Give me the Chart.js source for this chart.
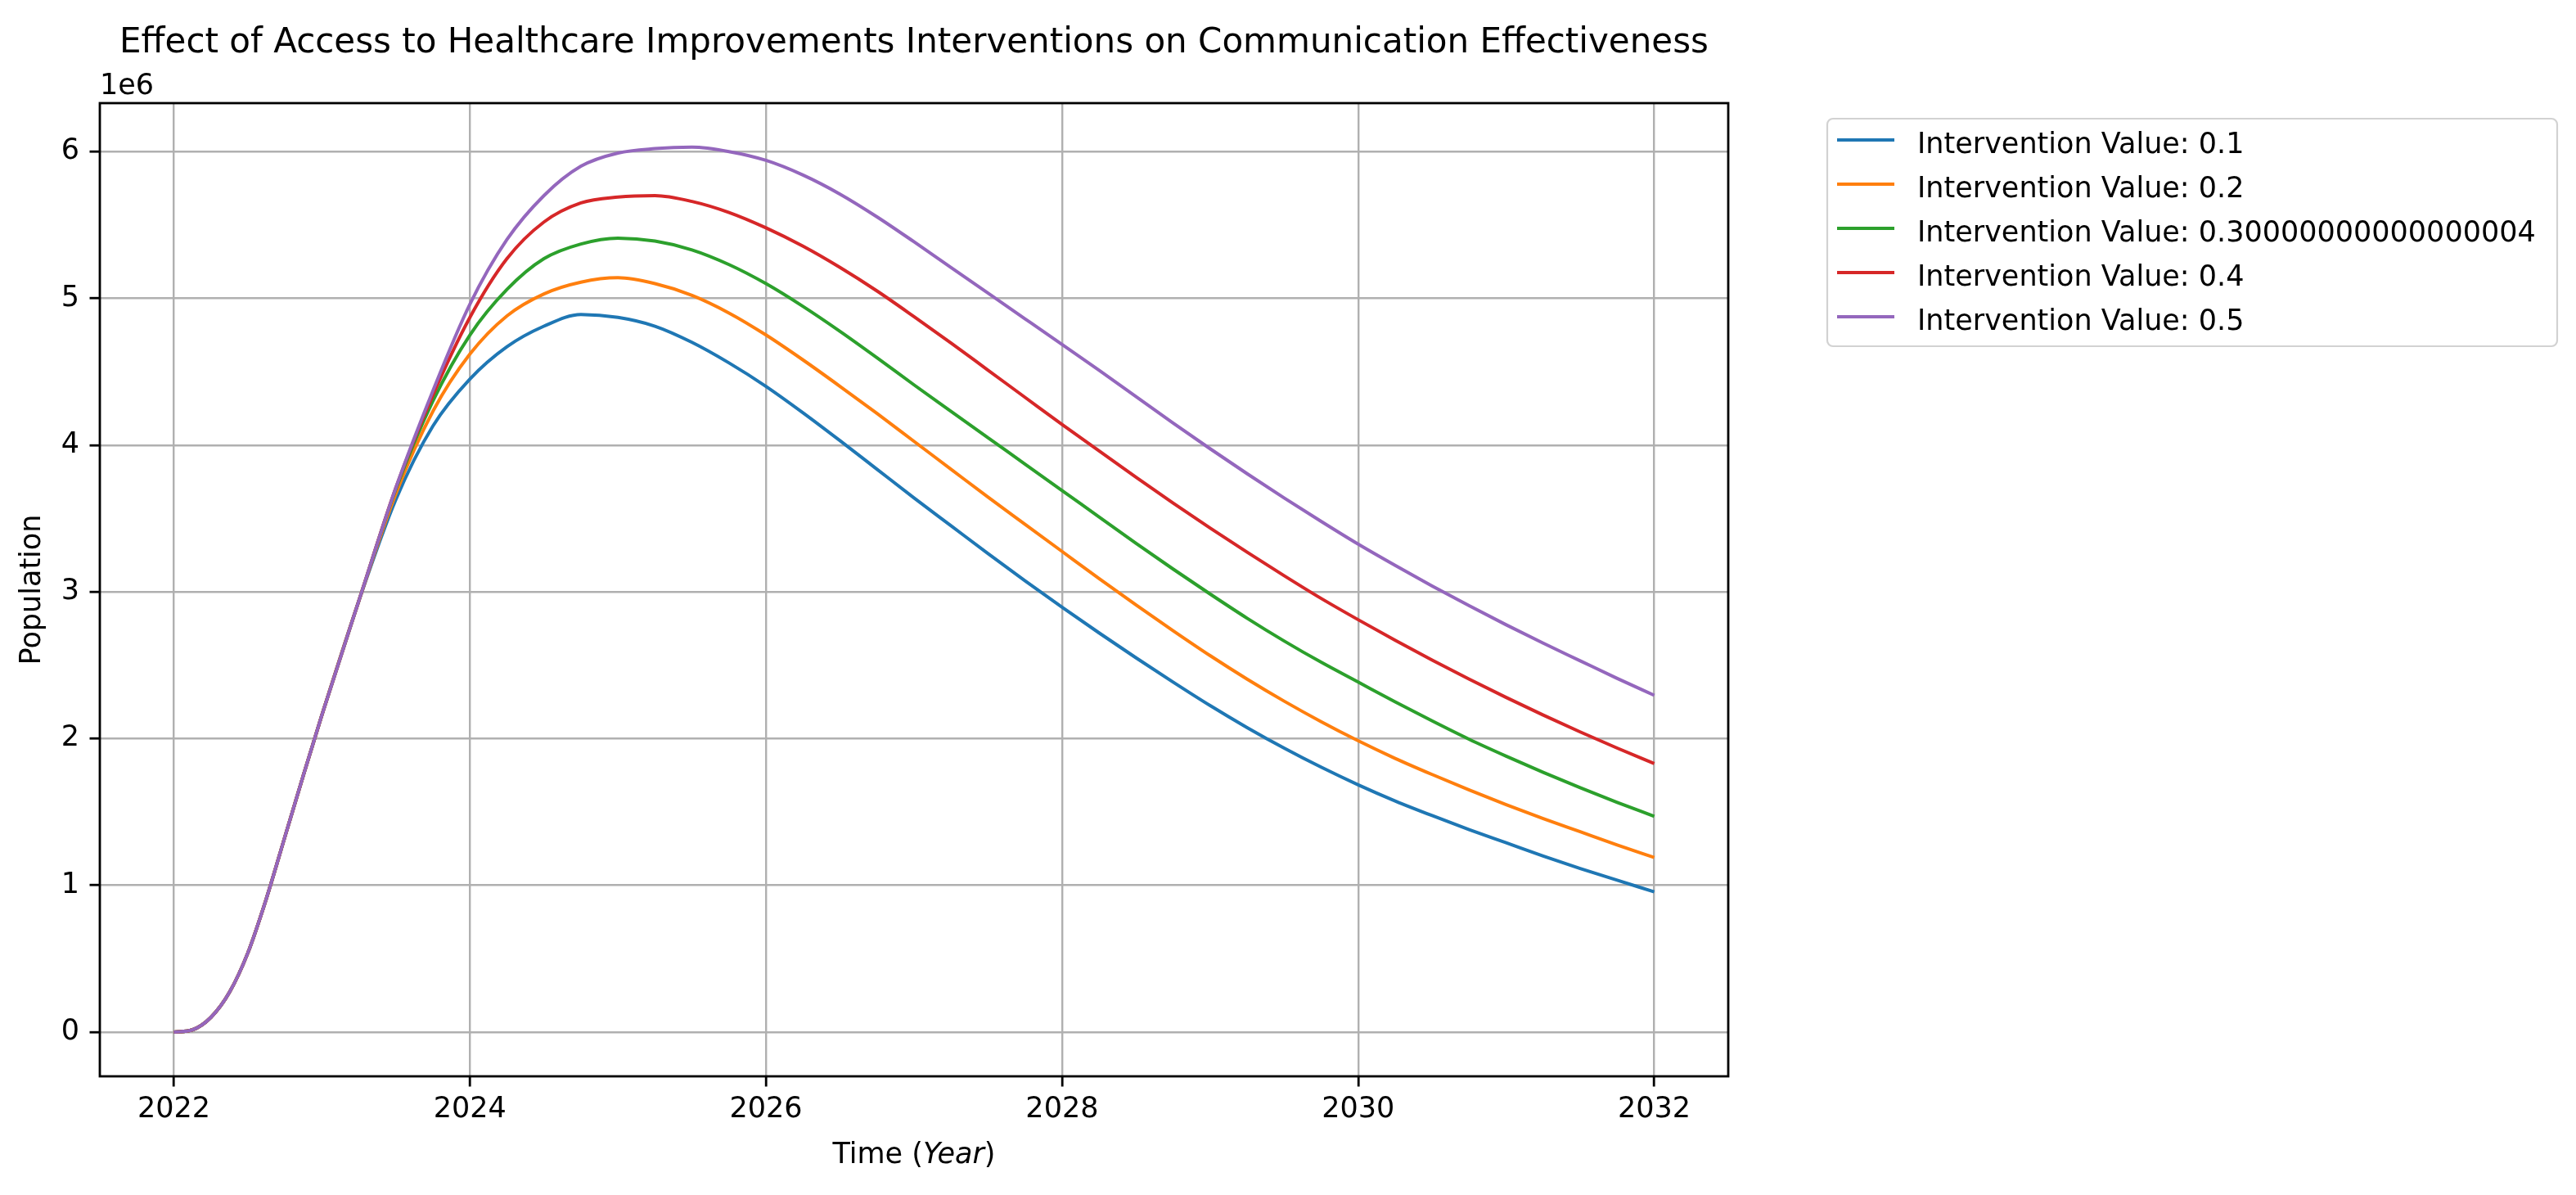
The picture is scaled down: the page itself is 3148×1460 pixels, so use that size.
<!DOCTYPE html>
<html>
<head>
<meta charset="utf-8">
<script src="https://cdn.jsdelivr.net/npm/chart.js"></script>
<style>
html, body { margin: 0; padding: 0; background: #ffffff; }
canvas { display: block; }
</style>
</head>
<body>
<canvas id="c" width="3148" height="1460"></canvas>
<script>
// ---- data ----
const titleText = 'Effect of Access to Healthcare Improvements Interventions on Communication Effectiveness';
const years = [2022, 2022.125, 2022.25, 2022.375, 2022.5, 2022.625, 2022.75, 2022.875, 2023, 2023.25, 2023.5, 2023.75,
  2024, 2024.25, 2024.5, 2024.75, 2025, 2025.25, 2025.5, 2025.75,
  2026, 2026.25, 2026.5, 2026.75, 2027, 2027.25, 2027.5, 2027.75,
  2028, 2028.25, 2028.5, 2028.75, 2029, 2029.25, 2029.5, 2029.75,
  2030, 2030.25, 2030.5, 2030.75, 2031, 2031.25, 2031.5, 2031.75, 2032];
const seriesLabels = [
  'Intervention Value: 0.1',
  'Intervention Value: 0.2',
  'Intervention Value: 0.30000000000000004',
  'Intervention Value: 0.4',
  'Intervention Value: 0.5'
];
const value01 = [0, 0.015e6, 0.10e6, 0.27e6, 0.54e6, 0.91e6, 1.33e6, 1.75e6, 2.16e6, 2.94e6, 3.63e6, 4.13e6,
  4.45e6, 4.67e6, 4.81e6, 4.89e6, 4.87e6, 4.81e6, 4.70e6, 4.56e6,
  4.40e6, 4.22e6, 4.03e6, 3.835e6, 3.64e6, 3.45e6, 3.26e6, 3.075e6,
  2.895e6, 2.72e6, 2.55e6, 2.385e6, 2.225e6, 2.075e6, 1.935e6, 1.805e6,
  1.685e6, 1.575e6, 1.475e6, 1.38e6, 1.29e6, 1.20e6, 1.115e6, 1.035e6, 0.955e6];
const value02 = [0, 0.015e6, 0.10e6, 0.27e6, 0.54e6, 0.91e6, 1.33e6, 1.75e6, 2.16e6, 2.94e6, 3.67e6, 4.23e6,
  4.62e6, 4.88e6, 5.03e6, 5.11e6, 5.14e6, 5.10e6, 5.02e6, 4.90e6,
  4.75e6, 4.58e6, 4.40e6, 4.215e6, 4.025e6, 3.835e6, 3.645e6, 3.46e6,
  3.275e6, 3.09e6, 2.91e6, 2.735e6, 2.565e6, 2.405e6, 2.255e6, 2.115e6,
  1.985e6, 1.865e6, 1.755e6, 1.65e6, 1.55e6, 1.455e6, 1.365e6, 1.275e6, 1.19e6];
const value03 = [0, 0.015e6, 0.10e6, 0.27e6, 0.54e6, 0.91e6, 1.33e6, 1.75e6, 2.16e6, 2.94e6, 3.70e6, 4.30e6,
  4.75e6, 5.06e6, 5.27e6, 5.37e6, 5.41e6, 5.39e6, 5.33e6, 5.23e6,
  5.10e6, 4.945e6, 4.775e6, 4.595e6, 4.41e6, 4.23e6, 4.05e6, 3.87e6,
  3.69e6, 3.51e6, 3.33e6, 3.155e6, 2.985e6, 2.82e6, 2.665e6, 2.52e6,
  2.385e6, 2.25e6, 2.12e6, 1.995e6, 1.88e6, 1.77e6, 1.665e6, 1.565e6, 1.47e6];
const value04 = [0, 0.015e6, 0.10e6, 0.27e6, 0.54e6, 0.91e6, 1.33e6, 1.75e6, 2.16e6, 2.94e6, 3.71e6, 4.34e6,
  4.87e6, 5.27e6, 5.52e6, 5.65e6, 5.69e6, 5.70e6, 5.66e6, 5.585e6,
  5.48e6, 5.355e6, 5.21e6, 5.05e6, 4.875e6, 4.695e6, 4.51e6, 4.325e6,
  4.14e6, 3.96e6, 3.78e6, 3.605e6, 3.435e6, 3.27e6, 3.11e6, 2.955e6,
  2.81e6, 2.67e6, 2.535e6, 2.405e6, 2.28e6, 2.16e6, 2.045e6, 1.935e6, 1.83e6];
const value05 = [0, 0.015e6, 0.10e6, 0.27e6, 0.54e6, 0.91e6, 1.33e6, 1.75e6, 2.16e6, 2.94e6, 3.71e6, 4.37e6,
  4.96e6, 5.40e6, 5.70e6, 5.90e6, 5.99e6, 6.02e6, 6.03e6, 6.00e6,
  5.94e6, 5.84e6, 5.71e6, 5.555e6, 5.385e6, 5.21e6, 5.035e6, 4.86e6,
  4.685e6, 4.51e6, 4.33e6, 4.15e6, 3.975e6, 3.805e6, 3.64e6, 3.48e6,
  3.325e6, 3.18e6, 3.04e6, 2.905e6, 2.775e6, 2.65e6, 2.53e6, 2.41e6, 2.295e6];
const xTicks = [2022, 2024, 2026, 2028, 2030, 2032];
const yTicks = [0, 1e6, 2e6, 3e6, 4e6, 5e6, 6e6];
const xRange = [2021.5, 2032.5];
const yRange = [-0.3015e6, 6.33e6];
const xTitle = ['Time (', 'Year', ')'];
const yTitle = 'Population';
const offsetText = '1e6';

// ---- styles ----
const colors = ['#1f77b4', '#ff7f0e', '#2ca02c', '#d62728', '#9467bd'];
const FONT = '"DejaVu Sans", "Liberation Sans", sans-serif';
const seriesValues = [value01, value02, value03, value04, value05];

const datasets = seriesValues.map((vals, i) => ({
  label: seriesLabels[i],
  data: years.map((x, j) => ({ x: x, y: vals[j] })),
  borderColor: colors[i],
  backgroundColor: colors[i],
  borderWidth: 4,
  pointRadius: 0,
  fill: false,
  cubicInterpolationMode: 'monotone',
  order: seriesValues.length - 1 - i
}));

const decorPlugin = {
  id: 'decor',
  afterDraw(chart) {
    const ctx = chart.ctx;
    const a = chart.chartArea;
    ctx.save();
    // frame (spines)
    ctx.strokeStyle = '#000000';
    ctx.lineWidth = 2.8;
    ctx.strokeRect(a.left, a.top, a.right - a.left, a.bottom - a.top);

    const cx = (a.left + a.right) / 2;
    ctx.fillStyle = '#000000';
    // title
    ctx.font = '42px ' + FONT;
    ctx.textAlign = 'center';
    ctx.textBaseline = 'alphabetic';
    ctx.fillText(titleText, cx, 64);

    // offset text
    ctx.font = '35px ' + FONT;
    ctx.textAlign = 'left';
    ctx.fillText(offsetText, a.left, 115);

    // x axis title with italic part
    const fN = '35px ' + FONT, fI = 'italic 35px ' + FONT;
    ctx.font = fN; const w0 = ctx.measureText(xTitle[0]).width;
    ctx.font = fI; const w1 = ctx.measureText(xTitle[1]).width;
    ctx.font = fN; const w2 = ctx.measureText(xTitle[2]).width;
    let x0 = cx - (w0 + w1 + w2) / 2;
    const by = 1421;
    ctx.textAlign = 'left';
    ctx.font = fN; ctx.fillText(xTitle[0], x0, by);
    ctx.font = fI; ctx.fillText(xTitle[1], x0 + w0, by);
    ctx.font = fN; ctx.fillText(xTitle[2], x0 + w0 + w1, by);

    // y axis title
    ctx.save();
    ctx.translate(40, (a.top + a.bottom) / 2);
    ctx.rotate(-Math.PI / 2);
    ctx.font = fN;
    ctx.textAlign = 'center';
    ctx.textBaseline = 'middle';
    ctx.fillText(yTitle, 0, 0);
    ctx.restore();

    // legend
    const lx = 2233, ly = 145, lw = 892, lh = 278;
    ctx.beginPath();
    ctx.roundRect(lx, ly, lw, lh, 7);
    ctx.fillStyle = 'rgba(255,255,255,0.8)';
    ctx.fill();
    ctx.strokeStyle = '#d2d2d2';
    ctx.lineWidth = 2.2;
    ctx.stroke();
    chart.data.datasets.forEach((ds, i) => {
      const y = 171 + 54 * i;
      ctx.strokeStyle = ds.borderColor;
      ctx.lineWidth = 4;
      ctx.beginPath();
      ctx.moveTo(2245, y);
      ctx.lineTo(2315, y);
      ctx.stroke();
      ctx.fillStyle = '#000000';
      ctx.font = fN;
      ctx.textAlign = 'left';
      ctx.textBaseline = 'alphabetic';
      ctx.fillText(ds.label, 2343, y + 16);
    });
    ctx.restore();
  }
};

new Chart(document.getElementById('c'), {
  type: 'line',
  data: { datasets: datasets },
  options: {
    responsive: false,
    devicePixelRatio: 1,
    animation: false,
    layout: { padding: { left: 0, top: 126, right: 3148 - 2112, bottom: 0 } },
    plugins: { legend: { display: false }, title: { display: false }, tooltip: { enabled: false } },
    scales: {
      x: {
        type: 'linear',
        min: xRange[0],
        max: xRange[1],
        afterBuildTicks: (axis) => { axis.ticks = xTicks.map(v => ({ value: v })); },
        afterFit: (axis) => { axis.height = 145; },
        grid: { color: '#b0b0b0', lineWidth: 2.4, tickColor: '#000000', tickWidth: 2.8, tickLength: 12.5 },
        border: { display: false },
        ticks: {
          color: '#000000',
          font: { family: FONT, size: 35 },
          padding: 7.5,
          maxRotation: 0,
          autoSkip: false,
          callback: (v) => String(v)
        }
      },
      y: {
        type: 'linear',
        min: yRange[0],
        max: yRange[1],
        afterBuildTicks: (axis) => { axis.ticks = yTicks.map(v => ({ value: v })); },
        afterFit: (axis) => { axis.width = 122; },
        grid: { color: '#b0b0b0', lineWidth: 2.4, tickColor: '#000000', tickWidth: 2.8, tickLength: 12.5 },
        border: { display: false },
        ticks: {
          color: '#000000',
          font: { family: FONT, size: 35 },
          padding: 12.5,
          autoSkip: false,
          callback: (v) => String(v / 1e6)
        }
      }
    }
  },
  plugins: [decorPlugin]
});
</script>
</body>
</html>
